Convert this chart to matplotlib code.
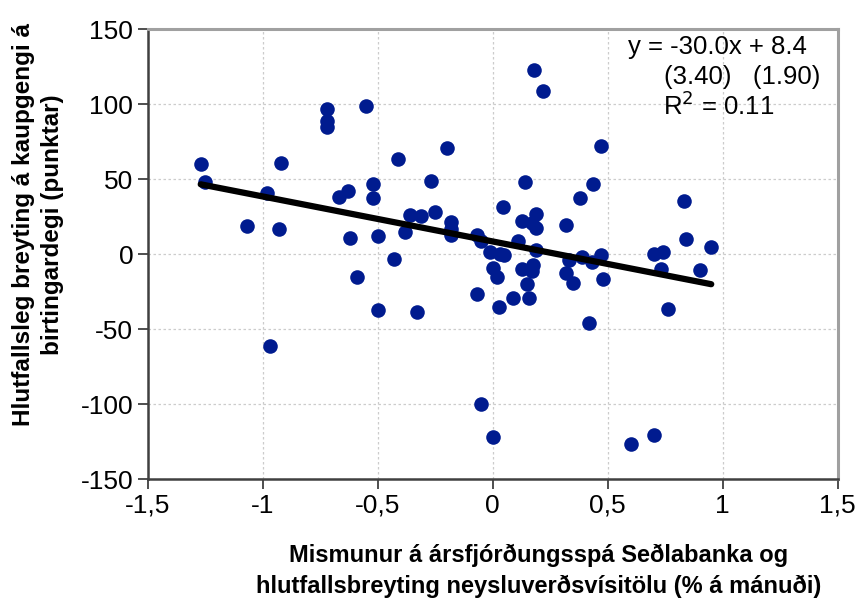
import numpy as np
import matplotlib.pyplot as plt

plt.rcParams['font.family'] = ['Liberation Sans', 'DejaVu Sans']
plt.rcParams['axes.unicode_minus'] = False

# frávik spár (x) og breyting á kaupgengi (y)
spa_frávik = [
    -1.27, -1.25, -1.07, -0.98, -0.93, -0.92, -0.97, -0.72, -0.72, -0.72,
    -0.55, -0.67, -0.63, -0.62, -0.59, -0.52, -0.52, -0.50, -0.50, -0.43,
    -0.41, -0.38, -0.36, -0.33, -0.31, -0.27, -0.25, -0.20, -0.18, -0.18,
    -0.18, -0.07, -0.05, -0.07, -0.05, 0.00, -0.01, 0.03, 0.05, 0.003,
    0.02, 0.027, 0.046, 0.09, 0.11, 0.126, 0.14, 0.126, 0.177, 0.17,
    0.148, 0.159, 0.19, 0.17, 0.19, 0.19, 0.18, 0.217, 0.32, 0.33,
    0.32, 0.35, 0.38, 0.387, 0.43, 0.437, 0.42, 0.47, 0.471, 0.48,
    0.60, 0.70, 0.70, 0.74, 0.73, 0.76, 0.83, 0.84, 0.90, 0.95,
]
kaupgengi = [
    60, 48, 19, 41, 16.5, 60.5, -61.5, 96.5, 89, 85,
    98.5, 38, 42, 10.5, -15.3, 46.5, 37.5, 11.8, -37, -3,
    63.6, 14.7, 25.8, -38.5, 25.3, 48.5, 28, 70.7, 21.3, 17,
    12.5, 12.5, 9, -26.7, -100.2, -122, 1.5, 0.2, -0.9, -9,
    -15, -35, 31.3, -29.2, 8.7, 22, 48, -9.8, -7.2, -11.5,
    -20.2, -29, 26.9, 20.8, 17.2, 2.5, 122.5, 109, 19.3, -4,
    -12.5, -19.2, 37.6, -2.2, -5.3, 46.5, -46.2, 71.8, -0.9, -16.9,
    -126.4, -120.4, -0.2, 1.1, -9.8, -36.4, 35.2, 9.8, -10.6, 4.5,
]

# aðhvarfslína
halli = -30.0
skurdpunktur = 8.4

x_ticks = [-1.5, -1, -0.5, 0, 0.5, 1, 1.5]
x_tick_labels = ['-1,5', '-1', '-0,5', '0', '0,5', '1', '1,5']
y_ticks = [-150, -100, -50, 0, 50, 100, 150]

fig = plt.figure(figsize=(8.57, 6.06), dpi=100)
ax = fig.add_axes([0.1725, 0.2095, 0.805, 0.7425])

ax.scatter(spa_frávik, kaupgengi, s=110, color='#001b8f', zorder=3, linewidths=0)

xl = np.array([min(spa_frávik), max(spa_frávik)])
ax.plot(xl, halli * xl + skurdpunktur, color='black', lw=4.5, zorder=4,
        solid_capstyle='round')

ax.set_xlim(-1.5, 1.5)
ax.set_ylim(-150, 150)
ax.set_xticks(x_ticks)
ax.set_xticklabels(x_tick_labels)
ax.set_yticks(y_ticks)
ax.tick_params(labelsize=19, direction='out', length=7, width=1.3, color='#404040')
ax.grid(True, color='#cccccc', linestyle=(0, (2, 2)), linewidth=0.9)
ax.set_axisbelow(True)

for side in ['top', 'right']:
    ax.spines[side].set_color('#a0a0a0')
    ax.spines[side].set_linewidth(2.2)
for side in ['bottom', 'left']:
    ax.spines[side].set_color('#404040')
    ax.spines[side].set_linewidth(1.8)

ax.set_xlabel('Mismunur á ársfjórðungsspá Seðlabanka og\nhlutfallsbreyting neysluverðsvísitölu (% á mánuði)',
              fontsize=17, fontweight='bold', linespacing=1.45)
ax.xaxis.set_label_coords(0.567, -0.143)
ax.set_ylabel('Hlutfallsleg breyting á kaupgengi á\nbirtingardegi (punktar)',
              fontsize=17.5, fontweight='bold', linespacing=1.3)
ax.yaxis.set_label_coords(-0.122, 0.565)

ax.text(0.955, 0.987, 'y = -30.0x + 8.4', transform=ax.transAxes,
        fontsize=18.5, ha='right', va='top')
ax.text(0.975, 0.921, '(3.40)   (1.90)', transform=ax.transAxes,
        fontsize=18.5, ha='right', va='top')
ax.text(0.828, 0.861, 'R$^2$ = 0.11', transform=ax.transAxes,
        fontsize=18.5, ha='center', va='top')

fig.savefig('out.png', dpi=100)
